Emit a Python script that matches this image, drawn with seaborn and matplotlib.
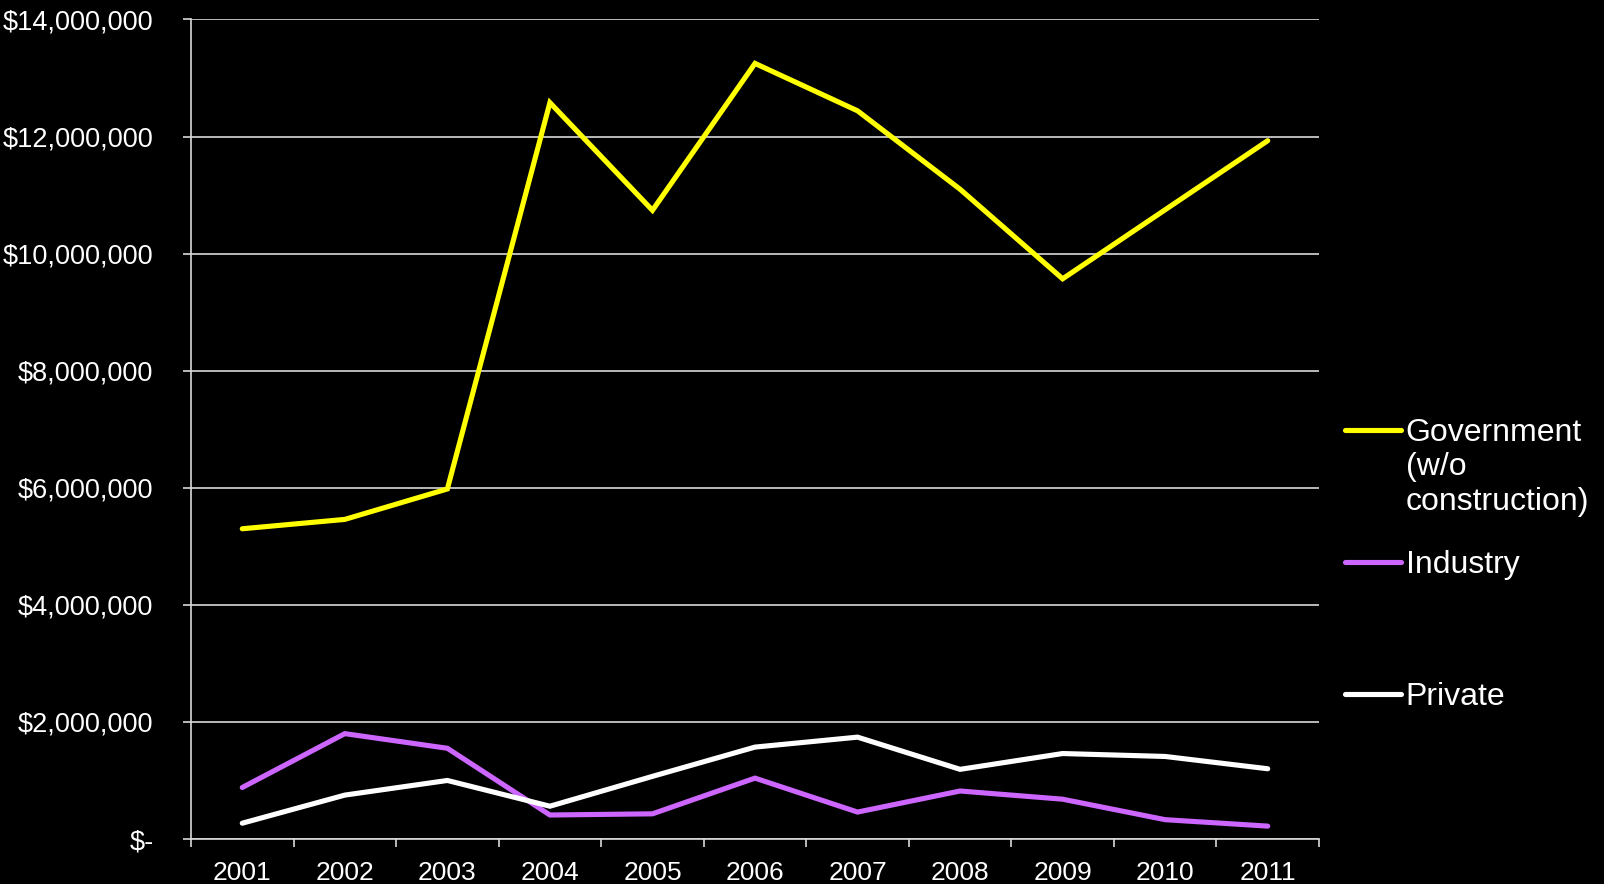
import matplotlib
matplotlib.use("Agg")
import matplotlib.pyplot as plt
import matplotlib.ticker as mticker
from matplotlib.legend_handler import HandlerLine2D
import seaborn as sns
import pandas as pd

# Data
years = ["2001", "2002", "2003", "2004", "2005", "2006", "2007", "2008", "2009", "2010", "2011"]
government = [5.30e6, 5.46e6, 5.98e6, 12.58e6, 10.74e6, 13.25e6, 12.44e6, 11.10e6, 9.57e6, 10.75e6, 11.93e6]
industry = [0.88e6, 1.80e6, 1.55e6, 0.41e6, 0.43e6, 1.04e6, 0.46e6, 0.82e6, 0.68e6, 0.33e6, 0.22e6]
private = [0.27e6, 0.75e6, 1.00e6, 0.56e6, 1.07e6, 1.57e6, 1.74e6, 1.19e6, 1.46e6, 1.41e6, 1.20e6]

series_names = ["Government\n(w/o\nconstruction)", "Industry\n\n", "Private\n\n"]
series_colors = ["#FFFF00", "#CC66FF", "#FFFFFF"]

rows = []
for name, values in zip(series_names, [government, industry, private]):
    for i, v in enumerate(values):
        rows.append({"x": i, "value": v, "series": name})
df = pd.DataFrame(rows)

sns.set_style("dark")
plt.rcParams["font.family"] = ["Liberation Sans", "DejaVu Sans"]

fig = plt.figure(figsize=(16.04, 8.84), dpi=100, facecolor="black")
ax = fig.add_axes([191 / 1604, 45 / 884, (1319 - 191) / 1604, (839 - 19.5) / 884])
ax.set_facecolor("black")

sns.lineplot(data=df, x="x", y="value", hue="series", palette=series_colors,
             hue_order=series_names, linewidth=3.7, ax=ax, legend=False,
             solid_capstyle="round", solid_joinstyle="miter")

grid_color = "#D9D9D9"
ax.set_xlim(-0.5, len(years) - 0.5)
ax.set_ylim(0, 14e6)
ax.yaxis.set_major_locator(mticker.MultipleLocator(2e6))
ax.yaxis.set_major_formatter(mticker.FuncFormatter(lambda v, p: "$-" if v == 0 else f"${v:,.0f}"))
ax.grid(False)
ax.yaxis.grid(True, color=grid_color, linewidth=1.2)
ax.set_axisbelow(True)

# category boundaries get the tick marks, centres get the labels
ax.set_xticks([i - 0.5 for i in range(len(years) + 1)])
ax.set_xticklabels([])
ax.set_xticks(range(len(years)), minor=True)
ax.set_xticklabels(years, minor=True)
ax.tick_params(axis="x", which="major", direction="out", length=6, width=1.2, color=grid_color, bottom=True)
ax.tick_params(axis="x", which="minor", length=0, pad=16, labelsize=19, labelcolor="white")
ax.tick_params(axis="y", direction="out", length=6, width=1.2, color=grid_color, left=True,
               pad=21, labelsize=19.5, labelcolor="white")
ax.set_xlabel("")
ax.set_ylabel("")

for side in ["top", "right"]:
    ax.spines[side].set_visible(False)
for side in ["left", "bottom"]:
    ax.spines[side].set_color(grid_color)
    ax.spines[side].set_linewidth(1.2)

LINESPACING = 1.19


class TopLineHandler(HandlerLine2D):
    # put the legend line next to the first line of the label
    def create_artists(self, legend, orig_handle, xdescent, ydescent, width, height, fontsize, trans):
        artists = super().create_artists(legend, orig_handle, xdescent, ydescent, width, height, fontsize, trans)
        for a in artists:
            a.set_ydata([y + fontsize * LINESPACING for y in a.get_ydata()])
        return artists


handles = [plt.Line2D([], [], color=c, linewidth=3.7, solid_capstyle="round") for c in series_colors]
leg = fig.legend(handles, series_names, loc="upper left", bbox_to_anchor=(1345 / 1604, 1 - 418 / 884),
                 frameon=False, fontsize=23, labelcolor="white", handlelength=1.75,
                 handletextpad=0.15, labelspacing=1.04, borderpad=0, borderaxespad=0,
                 handler_map={plt.Line2D: TopLineHandler()})
for t in leg.get_texts():
    t.set_linespacing(LINESPACING)

fig.savefig("out.png", dpi=100, facecolor="black")
